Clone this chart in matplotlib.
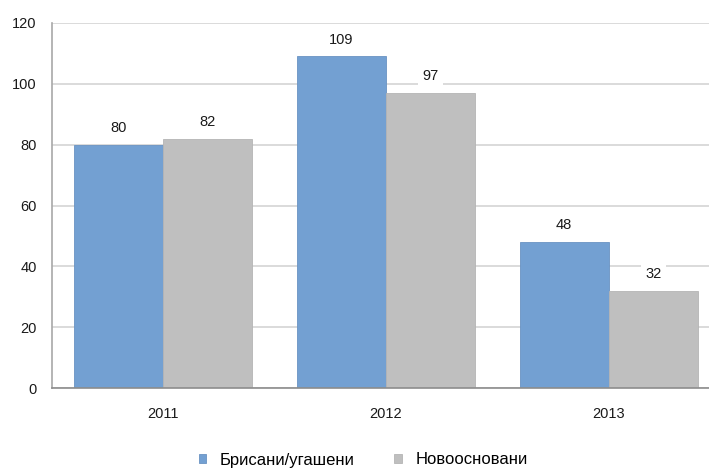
import matplotlib.pyplot as plt
import numpy as np

plt.rcParams["font.family"] = ["Liberation Sans", "DejaVu Sans"]

years = ["2011", "2012", "2013"]
deleted = [80, 109, 48]
founded = [82, 97, 32]
labels = ["Брисани/угашени", "Новоосновани"]

blue = "#73a0d2"
gray = "#bfbfbf"

fig = plt.figure(figsize=(7.09, 4.71), dpi=100)
ax = fig.add_axes([52 / 709, 83 / 471, 668 / 709, 365 / 471])

x = np.arange(len(years))
w = 0.4
b1 = ax.bar(x - w / 2, deleted, w, color=blue, edgecolor="#6a93c2", linewidth=0.6, label=labels[0], zorder=2)
b2 = ax.bar(x + w / 2, founded, w, color=gray, edgecolor="#b5b5b5", linewidth=0.6, label=labels[1], zorder=2)

for bars in (b1, b2):
    for r in bars:
        ax.annotate(
            "%d" % r.get_height(),
            (r.get_x() + r.get_width() / 2, r.get_height()),
            xytext=(0, 12),
            textcoords="offset points",
            ha="center",
            va="center",
            fontsize=10.5,
            color="#1a1a1a",
            bbox=dict(boxstyle="square,pad=0.3", fc="white", ec="none"),
            zorder=3,
        )

ax.set_xlim(-0.5, 2.5)
ax.set_ylim(0, 120)
ax.set_yticks(range(0, 121, 20))
ax.set_xticks(x)
ax.set_xticklabels(years)
ax.yaxis.grid(True, color="#d4d4d4", linewidth=1.2, zorder=0)
ax.tick_params(axis="y", length=0, pad=11, labelsize=10.5, colors="#1a1a1a")
ax.tick_params(axis="x", length=0, pad=14, labelsize=10.5, colors="#1a1a1a")
for s in ("top", "right"):
    ax.spines[s].set_visible(False)
ax.spines["left"].set_color("#a8a8a8")
ax.spines["bottom"].set_color("#8c8c8c")
ax.spines["left"].set_linewidth(1.2)
ax.spines["bottom"].set_linewidth(1.2)

fig.legend(
    handles=[b1, b2],
    labels=labels,
    loc="center",
    bbox_to_anchor=(363 / 709, 1 - 460 / 471),
    ncol=2,
    frameon=False,
    fontsize=12,
    handlelength=0.45,
    handleheight=0.45,
    handletextpad=0.8,
    columnspacing=2.4,
)

fig.savefig("out.png", dpi=100)
